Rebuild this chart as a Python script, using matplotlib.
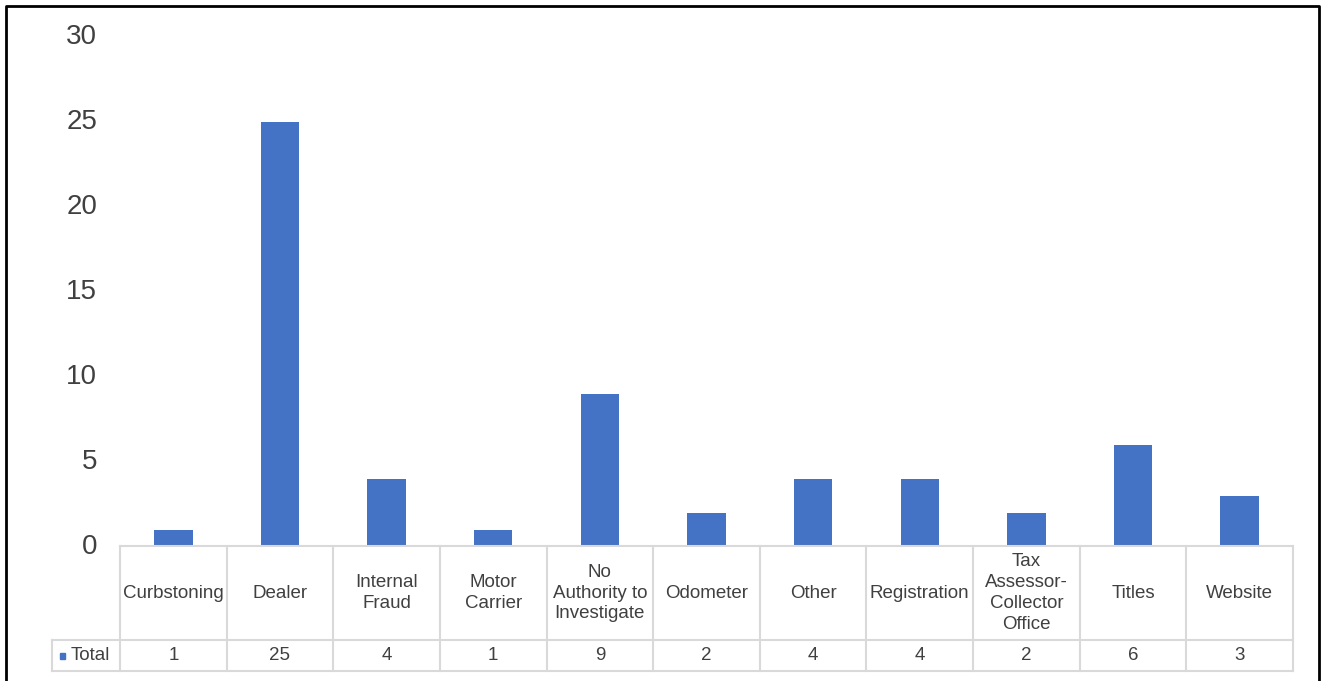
import matplotlib.pyplot as plt
import matplotlib.transforms as mtransforms
from matplotlib.lines import Line2D
from matplotlib.patches import Rectangle

plt.rcParams['font.family'] = ['Liberation Sans', 'DejaVu Sans']

categories = ["Curbstoning", "Dealer", "Internal\nFraud", "Motor\nCarrier",
              "No\nAuthority to\nInvestigate", "Odometer", "Other", "Registration",
              "Tax\nAssessor-\nCollector\nOffice", "Titles", "Website"]
totals = [1, 25, 4, 1, 9, 2, 4, 4, 2, 6, 3]
series_name = "Total"
y_ticks = [0, 5, 10, 15, 20, 25, 30]

BAR_COLOR = "#4472C4"
TEXT_COLOR = "#404040"
GRID_COLOR = "#D9D9D9"

W, H = 1325, 681
fig = plt.figure(figsize=(W / 100, H / 100), dpi=100)


def px(x0, y0, x1, y1):
    # pixel box (top-left origin) -> figure fraction rect
    return [x0 / W, 1 - y1 / H, (x1 - x0) / W, (y1 - y0) / H]


n = len(categories)
col_w = (1293 - 120) / n

# bar area
ax = fig.add_axes(px(120, 37, 1293, 547))
x = list(range(n))
ax.bar(x, totals, width=0.36, color=BAR_COLOR, zorder=2)
ax.set_xlim(-0.5, n - 0.5)
ax.set_ylim(0, 30)
ax.set_yticks(y_ticks)
ax.tick_params(axis='y', length=0, pad=16.5, labelsize=20, labelcolor=TEXT_COLOR)
lift = mtransforms.ScaledTranslation(0, 3 / 100, fig.dpi_scale_trans)
for lab in ax.get_yticklabels():
    lab.set_transform(lab.get_transform() + lift)
ax.set_xticks([])
for s in ax.spines.values():
    s.set_visible(False)

# data table underneath
legend_w = (120 - 52) / col_w
tab = fig.add_axes(px(52, 546, 1293, 671))
tab.set_xlim(-0.5 - legend_w, n - 0.5)
tab.set_ylim(0, 125)
tab.axis('off')
row_split = 31

lw = 1.5
fs = 13.5
tab.plot([-0.5, n - 0.5], [125, 125], color=GRID_COLOR, lw=lw, clip_on=False)
for i in range(n + 1):
    tab.plot([i - 0.5, i - 0.5], [0, 125], color=GRID_COLOR, lw=lw, clip_on=False)
tab.plot([-0.5 - legend_w, n - 0.5], [row_split, row_split], color=GRID_COLOR, lw=lw, clip_on=False)
tab.plot([-0.5 - legend_w, n - 0.5], [0, 0], color=GRID_COLOR, lw=lw, clip_on=False)
tab.plot([-0.5 - legend_w, -0.5 - legend_w], [0, row_split], color=GRID_COLOR, lw=lw, clip_on=False)

for i, (cat, val) in enumerate(zip(categories, totals)):
    tab.text(i, (125 + row_split) / 2, cat, ha='center', va='center', fontsize=fs,
             color=TEXT_COLOR, linespacing=1.3)
    tab.text(i, row_split / 2, str(val), ha='center', va='center', fontsize=fs,
             color=TEXT_COLOR)

# legend key in the first table column
lx = -0.5 - legend_w
tab.add_patch(Rectangle((lx + 8 / col_w, row_split / 2 - 3), 5 / col_w, 6,
                        color=BAR_COLOR, clip_on=False))
tab.text(lx + 19 / col_w, row_split / 2, series_name, ha='left', va='center',
         fontsize=fs, color=TEXT_COLOR)

# outer frame
frame = Line2D([6 / W, 6 / W, 1319 / W, 1319 / W], [0, 1 - 6 / H, 1 - 6 / H, 0],
               transform=fig.transFigure, color='black', lw=2)
fig.add_artist(frame)

fig.savefig("out.png", dpi=100)
